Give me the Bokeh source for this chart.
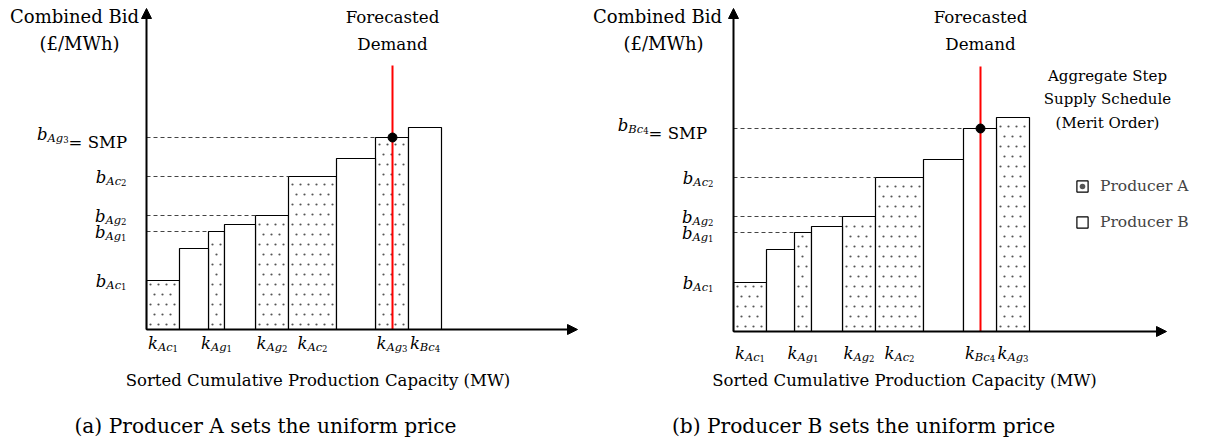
from bokeh.plotting import figure
from bokeh.layouts import row
from bokeh.models import Range1d, Arrow, NormalHead, ColumnDataSource, Legend, LegendItem
from bokeh.embed import file_html
from bokeh.resources import INLINE
from bokeh.core.properties import value

FONT = "DejaVu Serif"

# ---------------- data ----------------
# (a) Producer A sets the uniform price
units_a = ["Ac1", "Bc1", "Ag1", "Bc2", "Ag2", "Ac2", "Bc3", "Ag3", "Bc4"]
producer_a = ["A", "B", "A", "B", "A", "A", "B", "A", "B"]
capacity_a = [33, 29, 16, 31, 33, 48, 39, 33, 33]
bid_a = [49, 81, 98, 105, 114, 153, 171, 192, 202]

# (b) Producer B sets the uniform price
units_b = ["Ac1", "Bc1", "Ag1", "Bc2", "Ag2", "Ac2", "Bc3", "Bc4", "Ag3"]
producer_b = ["A", "B", "A", "B", "A", "A", "B", "B", "A"]
capacity_b = [33, 28, 17, 31, 33, 48, 40, 33, 33]
bid_b = [49, 82, 99, 105, 115, 154, 172, 203, 214]

demand_a = 246
demand_b = 247

tick_units = ["Ac1", "Ag1", "Ag2", "Ac2", "Ag3", "Bc4"]
bid_label_units = ["Ac1", "Ag1", "Ag2", "Ac2"]

y_title = ["Combined Bid", "(£/MWh)"]
demand_title = ["Forecasted", "Demand"]
x_title = "Sorted Cumulative Production Capacity (MW)"
captions = ["(a) Producer A sets the uniform price", "(b) Producer B sets the uniform price"]
legend_title = ["Aggregate Step", "Supply Schedule", "(Merit Order)"]
legend_labels = ["Producer A", "Producer B"]

# ---------------- helpers ----------------
W = {"b": .64, "k": .60, "A": .72, "B": .735, "c": .56, "g": .64,
     "1": .636, "2": .636, "3": .636, "4": .636, "=": .838, " ": .318,
     "S": .685, "M": .995, "P": .733}
MAIN, SUB, SUBSUB = 16.5, 11.5, 8.5
H = 440
WA, WB = 585, 612
DOT_DX, DOT_DY = 8.0, 10.0   # fill-pattern spacing (screen px == data units here)


def tw(s, size):
    return sum(W.get(ch, .6) for ch in s) * size


def name_pieces(letter, unit, dy=0.0):
    return [(letter, MAIN, dy, True), (unit[:2], SUB, dy + 3, True), (unit[2:], SUBSUB, dy + 5, False)]


def draw_pieces(p, x, y, pieces, align):
    widths = [tw(t, s) for t, s, _, _ in pieces]
    total = sum(widths)
    xo = {"left": 0.0, "center": -total / 2, "right": -total}[align]
    for (t, s, dy, it), w in zip(pieces, widths):
        p.text(x=[x], y=[y], text=[t], x_offset=xo, y_offset=dy,
               text_font=value(FONT), text_font_size=f"{s}px",
               text_font_style="italic" if it else "normal",
               text_baseline="alphabetic", text_align="left", text_color="black")
        xo += w


def plain(p, x, y, txt, size, align="center"):
    p.text(x=[x], y=[y], text=[txt], text_font=value(FONT), text_font_size=f"{size}px",
           text_align=align, text_baseline="middle", text_color="black")


def dot_fill(left, right, top):
    xs, ys = [], []
    j = 0
    y = 5.0
    while y < top - 3:
        off = DOT_DX / 2 if j % 2 else 0.0
        x = left + 4.0 + off
        while x < right - 2.5:
            xs.append(x)
            ys.append(y)
            x += DOT_DX
        y += DOT_DY
        j += 1
    return xs, ys


def make_fig(width, ox, oy):
    p = figure(width=width, height=H, x_range=Range1d(-ox, width - ox), y_range=Range1d(-oy, H - oy),
               output_backend="svg", toolbar_location=None, min_border=0,
               x_axis_location=None, y_axis_location=None)
    p.grid.visible = False
    p.outline_line_color = None
    return p


def panel(width, ox, oy, units, producers, caps, bids, demand, cfg, caption, legend=False):
    p = make_fig(width, ox, oy)
    lefts, rights = [], []
    acc = 0
    for c in caps:
        lefts.append(acc)
        acc += c
        rights.append(acc)

    def sel(prod):
        idx = [i for i, pr in enumerate(producers) if pr == prod]
        return ColumnDataSource(dict(left=[lefts[i] for i in idx], right=[rights[i] for i in idx],
                                     top=[bids[i] for i in idx], bottom=[0] * len(idx)))

    rA = p.quad(left="left", right="right", top="top", bottom="bottom", source=sel("A"),
                fill_color="white", line_color="black", line_width=1.2)
    rB = p.quad(left="left", right="right", top="top", bottom="bottom", source=sel("B"),
                fill_color="white", line_color="black", line_width=1.2)

    # dotted fill of producer A's steps
    dx_all, dy_all = [], []
    for i, pr in enumerate(producers):
        if pr == "A":
            xs, ys = dot_fill(lefts[i], rights[i], bids[i])
            dx_all += xs
            dy_all += ys
    rDots = p.scatter(x=dx_all, y=dy_all, size=2.2, color="#555555", line_color=None)

    m = [i for i in range(len(units)) if lefts[i] <= demand < rights[i]][0]
    smp = bids[m]

    # dashed guide lines
    dash_idx = [units.index(u) for u in bid_label_units if lefts[units.index(u)] > 0] + [m]
    p.segment(x0=[0] * len(dash_idx), y0=[bids[i] for i in dash_idx],
              x1=[lefts[i] for i in dash_idx], y1=[bids[i] for i in dash_idx],
              line_color="#444444", line_width=1, line_dash="4 3")

    # demand line and intersection
    p.segment(x0=[demand], y0=[0], x1=[demand], y1=[cfg["demand_top"]], line_color="red", line_width=2)
    p.scatter(x=[demand], y=[smp], size=9, color="black")

    # axes arrows
    p.add_layout(Arrow(end=NormalHead(size=10, fill_color="black", line_color="black"),
                       x_start=0, y_start=0, x_end=0, y_end=cfg["y_tip"], line_width=2))
    p.add_layout(Arrow(end=NormalHead(size=10, fill_color="black", line_color="black"),
                       x_start=0, y_start=0, x_end=cfg["x_tip"], y_end=0, line_width=2))

    # y labels
    for u in bid_label_units:
        i = units.index(u)
        draw_pieces(p, -20, bids[i], name_pieces("b", u, 1), "right")
    mu = units[m]
    smp_pieces = name_pieces("b", mu, -3) + [("= SMP", MAIN, 5, False)]
    draw_pieces(p, cfg["smp_right"], smp, smp_pieces, "right")

    # x labels
    for u in tick_units:
        i = units.index(u)
        draw_pieces(p, (lefts[i] + rights[i]) / 2, cfg["tick_y"], name_pieces("k", u, 0), "center")

    # titles
    plain(p, cfg["yt_x"][0], cfg["yt_y"][0], y_title[0], 18)
    plain(p, cfg["yt_x"][1], cfg["yt_y"][1], y_title[1], 18)
    plain(p, demand, cfg["yt_y"][0], demand_title[0], 16.7)
    plain(p, demand, cfg["yt_y"][1], demand_title[1], 16.7)
    plain(p, cfg["xl_x"], cfg["xl_y"], x_title, 16.5)
    plain(p, cfg["cap_x"], cfg["cap_y"], caption, 20.2)

    if legend:
        for k, t in enumerate(legend_title):
            plain(p, 374, 256 - 23.5 * k, t, 15)
        lg = Legend(items=[LegendItem(label=legend_labels[0], renderers=[rA, rDots]),
                           LegendItem(label=legend_labels[1], renderers=[rB])],
                    location=(478 + (597 - WA), 209), glyph_width=14, glyph_height=14, label_height=14,
                    label_standoff=11, spacing=18, padding=0, margin=0,
                    border_line_color=None, background_fill_alpha=0,
                    label_text_font=FONT, label_text_font_size="15.5px")
        p.add_layout(lg)
    return p


cfg_a = dict(demand_top=264, y_tip=321, x_tip=431, smp_right=-19, tick_y=-14,
             yt_x=(-72, -67), yt_y=(313, 286), xl_x=171.5, xl_y=-51, cap_x=119, cap_y=-96)
cfg_b = dict(demand_top=265, y_tip=323, x_tip=433, smp_right=-26, tick_y=-22,
             yt_x=(-76, -70), yt_y=(315, 288), xl_x=171, xl_y=-49, cap_x=130, cap_y=-94)

pa = panel(WA, 146, H - 329, units_a, producer_a, capacity_a, bid_a, demand_a, cfg_a, captions[0])
pb = panel(WB, 733 - WA, H - 331, units_b, producer_b, capacity_b, bid_b, demand_b, cfg_b, captions[1], legend=True)

layout = row(pa, pb)
open("out.html", "w").write(file_html(layout, INLINE))
